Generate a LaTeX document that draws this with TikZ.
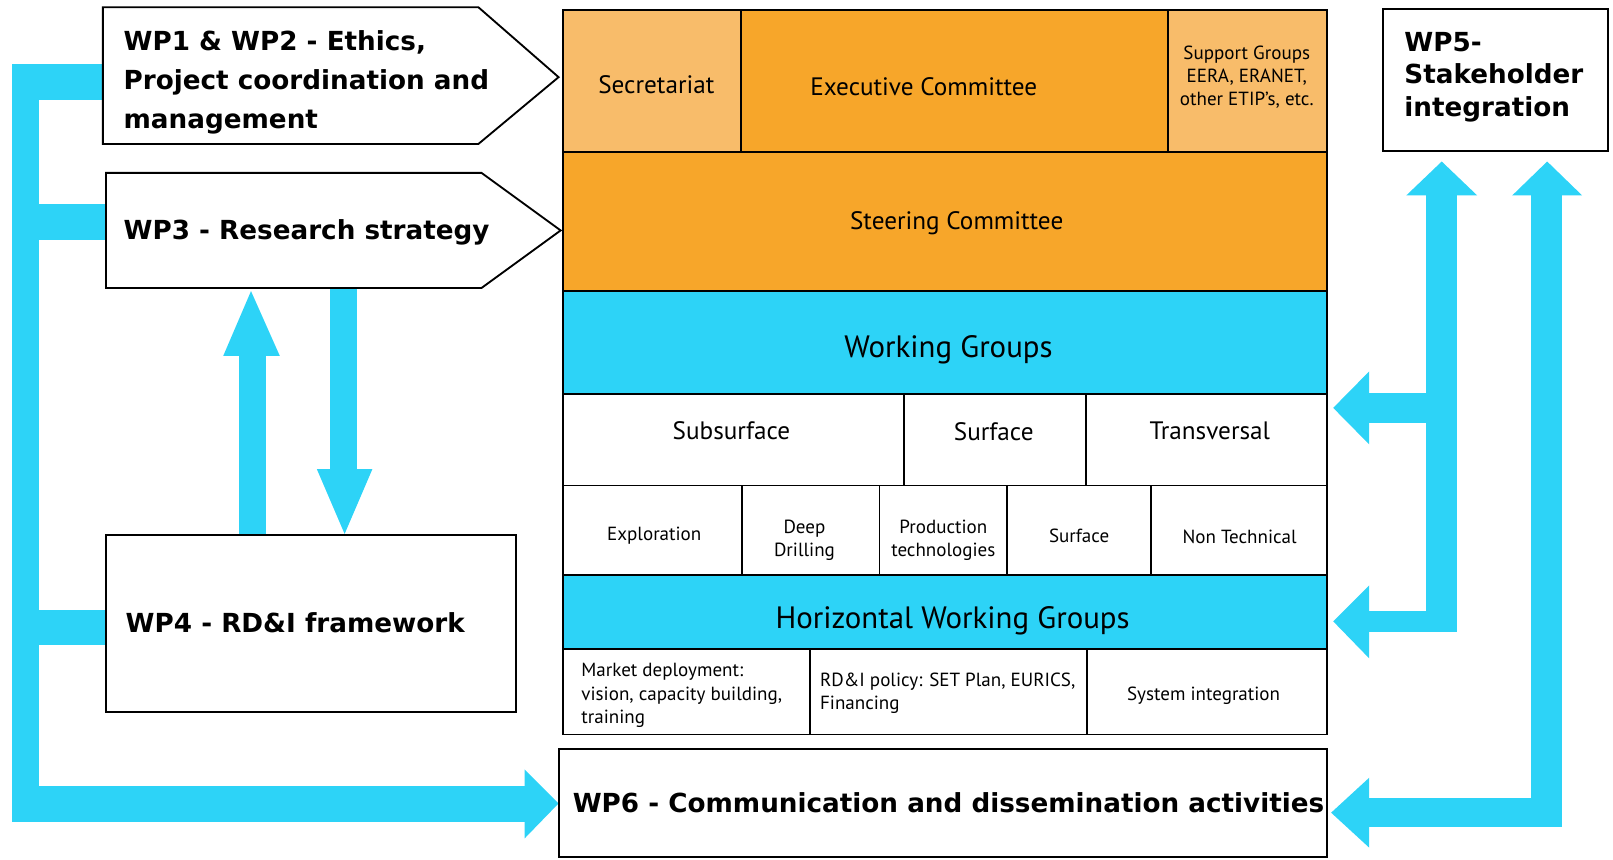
\documentclass[tikz,border=0pt]{standalone}
\usepackage{fontspec}
\newfontfamily\wpfont{DejaVu Sans}
\newfontfamily\gfont{PT Sans}
\definecolor{cy}{RGB}{45,211,247}
\definecolor{orD}{RGB}{247,166,42}
\definecolor{orL}{RGB}{248,188,106}
\begin{document}
\begin{tikzpicture}[x=1pt,y=-1pt,
  cell/.style={draw=black, line width=1.8pt, inner sep=0pt, outer sep=0pt, anchor=north west},
  wpbox/.style={draw=black, line width=1.8pt, fill=white},
  wpt/.style={font=\wpfont\bfseries\fontsize{25.5}{37.5}\selectfont, align=left, inner sep=0pt},
  wpfive/.style={font=\wpfont\bfseries\fontsize{25.5}{31.5}\selectfont, align=left, inner sep=0pt},
  gbig/.style={font=\gfont\fontsize{30}{36}\selectfont, inner sep=0pt},
  gmid/.style={font=\gfont\fontsize{24.5}{30}\selectfont, inner sep=0pt},
  gsm/.style={font=\gfont\fontsize{18.5}{22.5}\selectfont, inner sep=0pt, align=center},
  gsml/.style={font=\gfont\fontsize{18.5}{23}\selectfont, inner sep=0pt, align=left},
  fat/.style={fill=cy, draw=none}]
\useasboundingbox (0,0) rectangle (1568,836);

% ---- left cyan connectors
\fill[fat] (12,62) rectangle (38,799);
\fill[fat] (12,62) rectangle (101,97);
\fill[fat] (38,198) rectangle (104,233);
\fill[fat] (38,593) rectangle (104,627);
\fill[fat] (12,764) rectangle (511,799);
\fill[fat] (510,748) -- (543,781) -- (510,815) -- cycle;

% ---- WP3 <-> WP4
\fill[fat] (232,521) rectangle (259,345);
\fill[fat] (217,346) -- (244,283) -- (272,346) -- cycle;
\fill[fat] (321,279) rectangle (347,457);
\fill[fat] (308,456) -- (335,519) -- (362,456) -- cycle;

% ---- right cyan connectors
\fill[fat] (1386,189) rectangle (1416,614);
\fill[fat] (1367,190) -- (1401.5,157) -- (1436,190) -- cycle;
\fill[fat] (1488,189) rectangle (1518,804);
\fill[fat] (1470,190) -- (1504,157) -- (1538,190) -- cycle;
\fill[fat] (1329,382) rectangle (1387,411);
\fill[fat] (1331,361) -- (1296,396.5) -- (1331,432) -- cycle;
\fill[fat] (1329,594) rectangle (1387,614);
\fill[fat] (1331,569) -- (1296,604) -- (1331,640) -- cycle;
\fill[fat] (1329,776) rectangle (1518,804);
\fill[fat] (1331,756) -- (1294,790) -- (1331,824) -- cycle;

% ---- left WP boxes
\draw[wpbox] (100,7) -- (465,7) -- (543,75) -- (465,140) -- (100,140) -- cycle;
\node[wpt, anchor=west] (wp1) at (120,80) {WP1 \& WP2 - Ethics,\\Project coordination and\\management};
\draw[wpbox] (103,168) -- (468,168) -- (545,224) -- (468,280) -- (103,280) -- cycle;
\node[wpt, anchor=base west] (wp3) at (120,233) {WP3 - Research strategy};
\node[cell, fill=white, minimum width=399, minimum height=172] (wp4box) at (103,520) {};
\node[wpt, anchor=base west] (wp4) at (122,615) {WP4 - RD\&I framework};

% ---- WP5, WP6
\node[cell, fill=white, minimum width=219, minimum height=138] (wp5box) at (1344,9) {};
\node[wpfive, anchor=west] (wp5) at (1365,75) {WP5-\\Stakeholder\\integration};
\node[cell, fill=white, minimum width=747, minimum height=105] (wp6box) at (543,728) {};
\node[wpt, anchor=base] (wp6) at (922,790) {WP6 - Communication and dissemination activities};

% ---- main column
\node[cell, fill=orL, minimum width=173, minimum height=138] (secr) at (547,10) {};
\node[cell, fill=orD, minimum width=415, minimum height=138] (exec) at (720,10) {};
\node[cell, fill=orL, minimum width=155, minimum height=138] (supp) at (1135,10) {};
\node[cell, fill=orD, minimum width=743, minimum height=135] (steer) at (547,148) {};
\node[cell, fill=cy, minimum width=743, minimum height=100] (wg) at (547,283) {};
\node[cell, fill=white, minimum width=332, minimum height=89] (subs) at (547,383) {};
\node[cell, fill=white, minimum width=177, minimum height=89] (surf) at (879,383) {};
\node[cell, fill=white, minimum width=234, minimum height=89] (trans) at (1056,383) {};
\node[cell, fill=white, minimum width=174, minimum height=87] (expl) at (547,472) {};
\node[cell, fill=white, minimum width=134, minimum height=87] (deep) at (721,472) {};
\node[cell, fill=white, minimum width=124, minimum height=87] (prod) at (855,472) {};
\node[cell, fill=white, minimum width=140, minimum height=87] (surftwo) at (979,472) {};
\node[cell, fill=white, minimum width=171, minimum height=87] (nontech) at (1119,472) {};
\node[cell, fill=cy, minimum width=743, minimum height=72] (hwg) at (547,559) {};
\node[cell, fill=white, minimum width=240, minimum height=83] (mark) at (547,631) {};
\node[cell, fill=white, minimum width=270, minimum height=83] (rdi) at (787,631) {};
\node[cell, fill=white, minimum width=233, minimum height=83] (sysint) at (1057,631) {};

% ---- main column texts
\node[gmid] (tsecr) at (638,82) {Secretariat};
\node[gmid] (texec) at (898,84) {Executive Committee};
\node[gsm] (tsupp) at (1212,75) {Support Groups\\EERA, ERANET,\\other ETIP’s, etc.};
\node[gmid, anchor=base] (tsteer) at (930,223.5) {Steering Committee};
\node[gbig, anchor=base] (twg) at (922,347.5) {Working Groups};
\node[gmid, anchor=base] (tsubs) at (711,427.6) {Subsurface};
\node[gmid, anchor=base] (tsurf) at (966,428.6) {Surface};
\node[gmid, anchor=base] (ttrans) at (1176,427.6) {Transversal};
\node[gsm, anchor=base] (texpl) at (636,525.5) {Exploration};
\node[gsm] (tdeep) at (782,525) {Deep\\Drilling};
\node[gsm] (tprod) at (917,525) {Production\\technologies};
\node[gsm, anchor=base] (tsurftwo) at (1049,527.5) {Surface};
\node[gsm, anchor=base] (tnontech) at (1205,528.5) {Non Technical};
\node[gbig, anchor=base] (thwg) at (926,610.5) {Horizontal Working Groups};
\node[gsml, anchor=west] (tmark) at (565,676) {Market deployment:\\vision, capacity building,\\training};
\node[gsml, anchor=west] (trdi) at (797,674) {RD\&I policy: SET Plan, EURICS,\\Financing};
\node[gsm, anchor=base] (tsys) at (1170,680.5) {System integration};
\end{tikzpicture}
\end{document}
